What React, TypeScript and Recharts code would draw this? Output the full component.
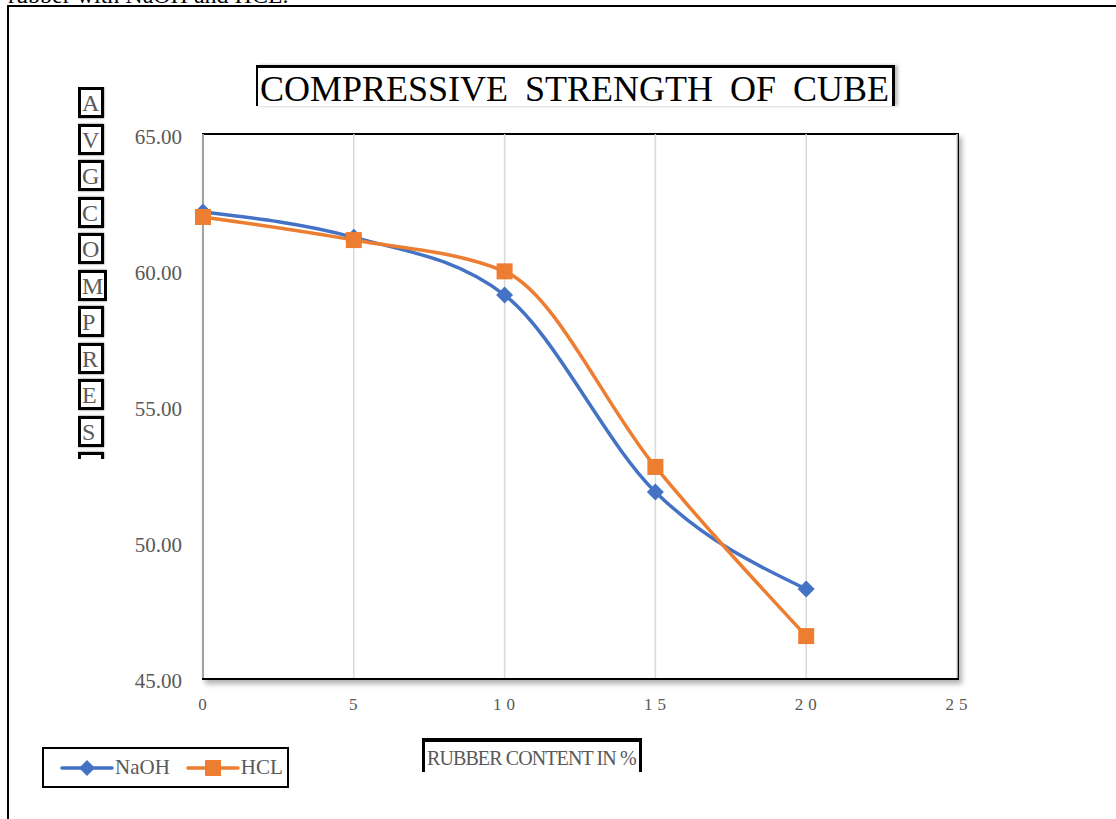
import React from "react";
import { LineChart, Line, XAxis, YAxis, CartesianGrid } from "recharts";

const rubberContent = [0, 5, 10, 15, 20];
const naohStrength = [62.13, 61.2, 59.08, 51.84, 48.27];
const hclStrength = [61.95, 61.1, 59.95, 52.76, 46.54];
const xTicks = [0, 5, 10, 15, 20, 25];
const yTicks = [45, 50, 55, 60, 65];
const yLabelLetters = "AVGCOMPRESSIVE".split("");

const BLUE = "#4472C4";
const ORANGE = "#ED7D31";
const GREY_TEXT = "#595959";
const FONT = "'Liberation Serif', 'Times New Roman', serif";

const data = rubberContent.map((x, i) => ({
  x,
  naoh: naohStrength[i],
  hcl: hclStrength[i],
}));

function Diamond(props: any) {
  const { cx, cy } = props;
  if (cx == null || cy == null) return null;
  const r = 8.5;
  return (
    <polygon
      points={`${cx},${cy - r} ${cx + r},${cy} ${cx},${cy + r} ${cx - r},${cy}`}
      fill={BLUE}
    />
  );
}

function Square(props: any) {
  const { cx, cy } = props;
  if (cx == null || cy == null) return null;
  const s = 16;
  return <rect x={cx - s / 2} y={cy - s / 2} width={s} height={s} fill={ORANGE} />;
}

function LegendItem({ color, name, marker }: { color: string; name: string; marker: "diamond" | "square" }) {
  return (
    <div style={{ display: "flex", alignItems: "center", marginRight: 16 }}>
      <svg width={54} height={20}>
        <line x1={2} y1={10} x2={52} y2={10} stroke={color} strokeWidth={3.5} strokeLinecap="round" />
        {marker === "diamond" ? (
          <polygon points="27,2 35,10 27,18 19,10" fill={color} />
        ) : (
          <rect x={19} y={2} width={16} height={16} fill={color} />
        )}
      </svg>
      <span style={{ fontSize: 21, color: GREY_TEXT, marginLeft: 1 }}>{name}</span>
    </div>
  );
}

export default function App() {
  return (
    <div
      style={{
        position: "absolute",
        left: 0,
        top: 0,
        width: 1116,
        height: 819,
        overflow: "hidden",
        background: "#fff",
        fontFamily: FONT,
      }}
    >
      {/* text of the page above, cut off */}
      <div style={{ position: "absolute", left: 8, top: -18, fontSize: 24, color: "#000", whiteSpace: "nowrap" }}>
        rubber with NaOH and HCL.
      </div>
      {/* page frame */}
      <div style={{ position: "absolute", left: 8, top: 5, right: 0, height: 2, background: "#000" }} />
      <div style={{ position: "absolute", left: 7, top: 5, width: 2, bottom: 0, background: "#000" }} />

      {/* title */}
      <div
        style={{
          position: "absolute",
          left: 256,
          top: 65,
          width: 632,
          height: 38,
          borderTop: "3px solid #000",
          borderLeft: "2px solid #000",
          borderRight: "3px solid #000",
          boxShadow: "3px 0 3px rgba(0,0,0,0.25)",
          fontSize: 36,
          lineHeight: "42px",
          wordSpacing: 8,
          color: "#000",
          whiteSpace: "nowrap",
          paddingLeft: 2,
          boxSizing: "content-box",
        }}
      >
        COMPRESSIVE STRENGTH OF CUBE
      </div>

      {/* y axis title, stacked letters */}
      <div style={{ position: "absolute", left: 78, top: 87, height: 372, overflow: "hidden" }}>
        {yLabelLetters.map((ch, i) => (
          <div
            key={i}
            style={{
              width: "fit-content",
              minWidth: 18,
              textAlign: "left",
              border: "3px solid #000",
              boxShadow: "0 0 2px rgba(0,0,0,0.6)",
              padding: "0 1px",
              height: 25,
              lineHeight: "27px",
              fontSize: 24,
              color: GREY_TEXT,
              marginBottom: 5.5,
            }}
          >
            {ch}
          </div>
        ))}
      </div>

      {/* plot frame behind the chart */}
      <div
        style={{
          position: "absolute",
          left: 202,
          top: 133,
          width: 753,
          height: 543,
          border: "2px solid #000",
          boxShadow: "3px 4px 5px rgba(0,0,0,0.3)",
          background: "#fff",
        }}
      />

      <div style={{ position: "absolute", left: 0, top: 0 }}>
        <LineChart
          width={1116}
          height={819}
          data={data}
          margin={{ top: 134, right: 159, bottom: 111, left: 123 }}
          style={{ fontFamily: FONT }}
        >
          <CartesianGrid horizontal={false} vertical stroke="#d9d9d9" strokeWidth={1.5} />
          <XAxis
            dataKey="x"
            type="number"
            domain={[0, 25]}
            ticks={xTicks}
            height={30}
            axisLine={false}
            tickLine={false}
            tickMargin={14}
            tick={{ fill: GREY_TEXT, fontSize: 17, letterSpacing: 5, dx: 2 }}
          />
          <YAxis
            type="number"
            domain={[45, 65]}
            ticks={yTicks}
            width={80}
            axisLine={false}
            tickLine={false}
            tickMargin={15}
            tickFormatter={(v: number) => v.toFixed(2)}
            tick={{ fill: GREY_TEXT, fontSize: 21, dy: 3 }}
          />
          <Line
            type="monotone"
            dataKey="naoh"
            name="NaOH"
            stroke={BLUE}
            strokeWidth={3.5}
            dot={<Diamond />}
            activeDot={false}
            isAnimationActive={false}
          />
          <Line
            type="monotone"
            dataKey="hcl"
            name="HCL"
            stroke={ORANGE}
            strokeWidth={3.5}
            dot={<Square />}
            activeDot={false}
            isAnimationActive={false}
          />
        </LineChart>
      </div>

      {/* x axis title */}
      <div
        style={{
          position: "absolute",
          left: 422,
          top: 738,
          width: 212,
          height: 30,
          borderTop: "4px solid #000",
          borderLeft: "3px solid #000",
          borderRight: "3px solid #000",
          fontSize: 20,
          lineHeight: "32px",
          letterSpacing: -0.9,
          color: GREY_TEXT,
          whiteSpace: "nowrap",
          paddingLeft: 2,
          boxSizing: "content-box",
        }}
      >
        RUBBER CONTENT IN %
      </div>

      {/* legend */}
      <div
        style={{
          position: "absolute",
          left: 42,
          top: 747,
          width: 247,
          height: 41,
          border: "2px solid #000",
          display: "flex",
          alignItems: "center",
          paddingLeft: 16,
          boxSizing: "border-box",
        }}
      >
        <LegendItem color={BLUE} name="NaOH" marker="diamond" />
        <LegendItem color={ORANGE} name="HCL" marker="square" />
      </div>
    </div>
  );
}
